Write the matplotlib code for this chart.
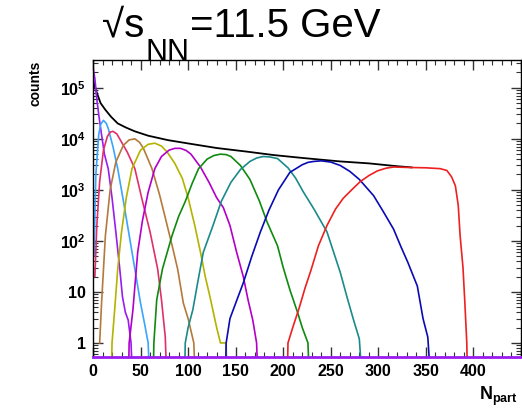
import matplotlib
matplotlib.use("Agg")
import matplotlib.pyplot as plt
from matplotlib.ticker import MultipleLocator, LogLocator, NullFormatter

plt.rcParams['font.family'] = ['Liberation Sans', 'DejaVu Sans']
plt.rcParams['mathtext.fontset'] = 'custom'
plt.rcParams['mathtext.rm'] = 'Liberation Sans'
plt.rcParams['mathtext.bf'] = 'Liberation Sans:bold'

# ---- data (Npart, counts) ----
total_x = [0, 1, 4, 8, 13, 19, 26, 35, 44, 58, 79, 102, 130, 162, 190, 221, 260, 290, 320, 335]
total_y = [1.5e5, 1.2e5, 8e4, 5e4, 3.7e4, 2.7e4, 2e4, 1.65e4, 1.4e4, 1.15e4, 9.4e3, 8e3, 6.6e3,
           5.6e3, 4.8e3, 4.2e3, 3.6e3, 3.3e3, 2.9e3, 2.75e3]

c1_x = [0, 2, 4, 6, 9, 12, 16, 20, 24, 28, 31, 34, 37, 40, 42]
c1_y = [2.5e5, 1.5e5, 6e4, 3e4, 1.2e4, 5e3, 2.6e3, 700, 150, 30, 8, 4, 2.8, 1, 0.1]

c2_x = [1, 3, 6, 8, 11, 14, 16, 21, 26, 32, 38, 44, 50, 55, 58, 60]
c2_y = [50, 2000, 12000, 19000, 23000, 20000, 16000, 7000, 2600, 600, 130, 28, 6, 2, 1, 0.1]

c3_x = [2, 4, 7, 11, 15, 18, 21, 25, 28, 36, 44, 52, 60, 68, 72, 76, 78]
c3_y = [20, 200, 1450, 6000, 11000, 13500, 14000, 12500, 10000, 5500, 2600, 600, 150, 28, 7, 1.3, 0.1]

c4_x = [7, 9, 13, 18, 24, 32, 38, 44, 49, 53, 62, 70, 78, 84, 89, 95, 100, 106, 108]
c4_y = [1, 6, 125, 1000, 3500, 7500, 9500, 10000, 8500, 6500, 2600, 800, 200, 70, 28, 6, 3, 1, 0.1]

c5_x = [19, 20, 23, 26, 30, 35, 41, 50, 58, 65, 72, 78, 86, 94, 100, 107, 113, 118, 123, 130, 134, 140, 141]
c5_y = [0.1, 1, 5, 28, 150, 700, 2600, 6000, 7800, 8200, 7200, 5500, 3300, 1660, 700, 200, 60, 20, 8, 2, 1, 1, 0.1]

c6_x = [37, 38, 42, 47, 52, 58, 65, 72, 80, 86, 92, 98, 103, 113, 122, 130, 137, 144, 151, 158, 163, 168, 172, 174]
c6_y = [0.1, 1, 4.5, 60, 250, 900, 2600, 4500, 6000, 6500, 6500, 5900, 5000, 2800, 1400, 700, 450, 200, 60, 20, 7, 2.8, 1, 0.1]

c7_x = [63, 64, 67, 73, 83, 90, 97, 104, 111, 120, 127, 134, 140, 145, 155, 165, 175, 183, 194, 200, 207, 215, 220, 226, 228]
c7_y = [0.1, 1, 7, 28, 125, 300, 590, 1300, 2600, 4000, 4700, 5000, 4900, 4500, 3000, 1600, 600, 235, 80, 30, 11, 4, 2, 1, 0.1]

c8_x = [96, 97, 100, 105, 110, 116, 126, 135, 145, 155, 165, 172, 179, 186, 194, 205, 213, 221, 233, 246, 253, 260, 267, 274, 280, 284]
c8_y = [0.1, 1, 2, 4.5, 15, 60, 196, 600, 1400, 2500, 3600, 4200, 4500, 4400, 4100, 2700, 1700, 920, 400, 150, 60, 24, 8, 2.8, 1.2, 0.1]

c9_x = [139, 140, 144, 150, 158, 167, 176, 185, 195, 207, 220, 226, 232, 240, 250, 260, 270, 280, 295, 305, 316, 324, 331, 341, 347, 352, 356]
c9_y = [0.1, 1, 3, 6, 15, 50, 150, 400, 1000, 2200, 3100, 3450, 3600, 3700, 3500, 3000, 2300, 1600, 770, 380, 170, 75, 38, 13, 3, 1.3, 0.1]

c10_x = [204, 205, 210, 217, 223, 229, 237, 246, 255, 263, 272, 281, 290, 299, 308, 316, 330, 350,
         365, 372, 377, 381, 384, 386, 389, 391, 393, 394]
c10_y = [0.1, 1, 2, 5, 12, 26, 80, 200, 420, 680, 1000, 1450, 1900, 2350, 2650, 2800, 2750, 2700,
         2600, 2400, 1800, 1200, 500, 125, 30, 6, 1, 0.1]

class_x = [c1_x, c2_x, c3_x, c4_x, c5_x, c6_x, c7_x, c8_x, c9_x, c10_x]
class_y = [c1_y, c2_y, c3_y, c4_y, c5_y, c6_y, c7_y, c8_y, c9_y, c10_y]
class_colors = ['#9a1cf0', '#3aa4ff', '#e0306a', '#b5793a', '#b3b300',
                '#b300c8', '#0f8a0f', '#1a8a8a', '#0a0ab4', '#ee2020']

x_ticks = [0, 50, 100, 150, 200, 250, 300, 350, 400, 450]
x_tick_labels = ['0', '50', '100', '150', '200', '250', '300', '350', '400', '']
y_ticks = [1, 10, 1e2, 1e3, 1e4, 1e5]
y_tick_labels = ['1', '10', r'$\mathbf{10^{2}}$', r'$\mathbf{10^{3}}$', r'$\mathbf{10^{4}}$', r'$\mathbf{10^{5}}$']

W, H = 522, 408
fig = plt.figure(figsize=(W / 100, H / 100), dpi=100)
ax = fig.add_axes([93/W, 1 - 357/H, (521 - 93)/W, (357 - 60)/H])

ax.plot(total_x, total_y, color='black', lw=1.3)
for xs, ys, col in zip(class_x, class_y, class_colors):
    ax.plot(xs, ys, color=col, lw=1.2)

ax.set_yscale('log')
ax.set_xlim(0, 450)
ax.set_ylim(0.53, 3.5e5)

ax.set_xticks(x_ticks)
ax.set_xticklabels(x_tick_labels)
ax.xaxis.set_minor_locator(MultipleLocator(10))
ax.set_yticks(y_ticks)
ax.set_yticklabels(y_tick_labels)
ax.yaxis.set_minor_locator(LogLocator(base=10, subs=range(2, 10), numticks=20))
ax.yaxis.set_minor_formatter(NullFormatter())

ax.tick_params(which='both', direction='in', top=True, right=True, color='#333333')
ax.tick_params(which='major', length=7, width=1)
ax.tick_params(which='minor', length=3.5, width=0.8)
ax.tick_params(axis='both', labelsize=11.5, pad=5)
for lab in ax.get_xticklabels() + ax.get_yticklabels():
    lab.set_fontweight('bold')

for s in ['left', 'top', 'right']:
    ax.spines[s].set_linewidth(1.0)
ax.spines['bottom'].set_color('#9a1cf0')
ax.spines['bottom'].set_linewidth(2)

fig.text(35/W, 1 - 61/H, 'counts', rotation=90, ha='center', va='top',
         fontsize=10, fontweight='bold')
fig.text(479/W, 1 - 400/H, r'N$_{\mathbf{part}}$', ha='left', va='baseline',
         fontsize=13, fontweight='bold')

# title composed of pieces: main text, large hanging subscript, rest
base_y = 1 - 37/H
t1 = fig.text(102/W, base_y, '√s', ha='left', va='baseline', fontsize=29)
fig.canvas.draw()
r = fig.canvas.get_renderer()
bb1 = t1.get_window_extent(renderer=r)
t2 = fig.text((bb1.x1 + 1)/W, 1 - 38/H, 'NN', ha='left', va='top', fontsize=22)
bb2 = t2.get_window_extent(renderer=r)
fig.text((bb2.x1 + 1)/W, base_y, '=11.5 GeV', ha='left', va='baseline', fontsize=29)

fig.savefig('out.png', dpi=100)
